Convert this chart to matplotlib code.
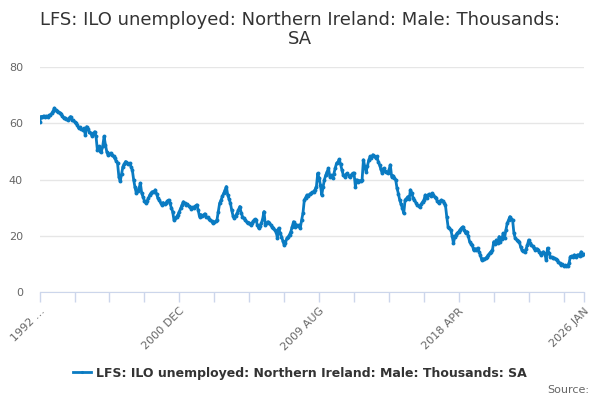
import matplotlib.pyplot as plt
import numpy as np
import pandas as pd

# monthly values, 1992 APR .. 2026 JAN (thousands)
months = pd.period_range('1992-04', '2026-01', freq='M')
values = [
    60.3, 62.4, 62.2, 62.6, 62.3, 62.5, 62.4, 62.8, 62.9, 63.5, 64.2, 65.4,
    64.6, 64.2, 64.0, 63.8, 63.2, 62.5, 61.8, 61.9, 61.5, 61.2, 61.8, 62.4,
    61.2, 61.0, 60.6, 60.0, 59.4, 58.3, 58.6, 58.0, 57.7, 58.2, 55.9, 58.8,
    57.8, 57.0, 56.4, 55.5, 56.2, 57.0, 55.3, 50.5, 51.8, 50.2, 49.9, 52.0,
    55.3, 52.3, 49.9, 48.6, 49.0, 49.4, 48.8, 48.2, 47.5, 46.6, 45.8, 41.0,
    39.3, 42.0, 44.6, 45.5, 46.4, 46.0, 45.4, 45.8, 44.6, 43.4, 39.9, 37.2,
    35.1, 36.0, 36.9, 38.7, 35.1, 33.8, 32.5, 31.6, 32.4, 33.3, 34.5, 35.2,
    35.7, 35.4, 36.3, 35.0, 33.4, 32.7, 31.8, 31.0, 31.8, 31.2, 31.6, 32.3,
    32.7, 31.5, 30.0, 28.6, 25.6, 26.2, 26.8, 27.5, 28.6, 29.8, 31.0, 32.1,
    31.5, 31.0, 31.2, 30.6, 30.4, 29.6, 30.2, 29.8, 30.5, 31.0, 29.2, 26.8,
    27.5, 27.0, 27.4, 27.8, 26.8, 26.5, 26.0, 25.6, 25.2, 24.4, 24.8, 25.1,
    25.6, 28.6, 31.6, 32.6, 34.0, 35.1, 36.2, 37.5, 34.5, 33.0, 31.6, 29.0,
    27.0, 26.2, 27.2, 28.0, 29.2, 30.4, 28.2, 26.8, 26.2, 25.6, 25.0, 24.4,
    24.6, 23.8, 24.4, 25.2, 25.8, 25.6, 24.0, 22.7, 23.6, 24.4, 26.0, 28.6,
    23.8, 24.4, 25.0, 24.6, 23.8, 23.2, 22.6, 22.0, 21.5, 19.1, 22.7, 21.0,
    19.7, 18.2, 16.7, 17.5, 19.1, 19.6, 20.4, 21.5, 23.2, 25.0, 23.2, 24.0,
    23.6, 23.8, 22.7, 25.6, 28.0, 32.7, 33.6, 34.5, 34.2, 34.8, 35.1, 35.4,
    35.7, 36.4, 37.5, 42.2, 40.5, 38.0, 34.5, 37.5, 40.0, 41.6, 42.8, 44.0,
    41.0, 41.5, 40.5, 42.0, 44.0, 45.8, 46.2, 47.2, 45.4, 43.4, 41.6, 41.0,
    41.8, 42.2, 41.4, 41.0, 41.6, 42.2, 42.2, 37.5, 39.9, 39.0, 39.6, 39.3,
    39.9, 47.0, 44.6, 42.8, 44.8, 47.0, 48.2, 47.6, 48.8, 48.2, 47.8, 48.2,
    46.4, 45.2, 43.6, 42.2, 44.0, 43.0, 42.5, 42.2, 43.4, 45.2, 41.0, 41.4,
    40.6, 39.9, 36.9, 35.0, 32.7, 31.2, 29.8, 28.0, 32.7, 33.2, 33.9, 33.0,
    36.3, 35.2, 33.3, 32.6, 31.8, 31.0, 30.6, 30.4, 31.2, 32.0, 32.7, 34.5,
    33.6, 34.5, 34.8, 34.2, 35.1, 34.6, 33.8, 33.3, 32.4, 31.6, 32.2, 32.7,
    32.4, 31.6, 31.0, 26.8, 23.2, 22.7, 22.1, 20.0, 17.3, 19.7, 20.4, 21.0,
    21.5, 22.2, 22.8, 23.2, 22.0, 20.9, 21.5, 20.0, 17.9, 17.2, 16.7, 14.9,
    15.4, 15.0, 15.6, 14.4, 13.2, 11.4, 11.8, 11.6, 12.0, 12.5, 13.2, 13.8,
    14.4, 14.9, 17.9, 17.0, 18.5, 17.3, 19.7, 17.9, 18.8, 20.9, 19.1, 22.0,
    24.4, 25.6, 26.8, 26.0, 25.6, 20.9, 19.1, 18.6, 18.2, 17.9, 16.0, 14.9,
    14.6, 14.3, 15.2, 16.7, 18.5, 17.6, 16.7, 16.2, 15.6, 14.9, 15.4, 14.9,
    14.2, 13.2, 14.0, 14.3, 13.6, 11.4, 15.6, 14.0, 12.6, 12.4, 12.2, 12.0,
    11.8, 11.4, 10.8, 10.2, 9.6, 9.8, 9.3, 9.5, 9.2, 9.3, 10.2, 12.6,
    12.8, 12.4, 13.2, 12.6, 13.0, 13.2, 12.8, 14.3, 13.2, 13.5,
]
series_name = 'LFS: ILO unemployed: Northern Ireland: Male: Thousands: SA'
labelled_months = ['1992-04', '2000-12', '2009-08', '2018-04', '2026-01']
yticks = [0, 20, 40, 60, 80]

month_labels = [m.strftime('%Y %b').upper() for m in months]
month_labels[0] = '1992 \u2026'
x = np.arange(len(months))

line_col = '#0a7bc2'
grey = '#666666'

fig = plt.figure(figsize=(6, 4), dpi=100)
ax = fig.add_axes([0.066, 0.27, 0.907, 0.5625])

ax.plot(x, values, color=line_col, lw=2, marker='o', ms=2.8,
        markeredgewidth=0, label=series_name, zorder=3)

ax.set_xlim(0, len(months) - 1)
ax.set_ylim(0, 80)
ax.set_yticks(yticks)
ax.yaxis.grid(True, color='#e6e6e6', lw=1)
ax.set_axisbelow(True)
ax.tick_params(axis='y', length=0, labelsize=8, labelcolor=grey, pad=12)

# tick marks every 26 months plus the last month, labels on a few
tick_pos = list(range(0, len(months), 26)) + [len(months) - 1]
lab_idx = [months.get_loc(pd.Period(m, 'M')) for m in labelled_months]
tick_lab = [month_labels[p] if p in lab_idx else '' for p in tick_pos]
ax.set_xticks(tick_pos)
ax.set_xticklabels(tick_lab, rotation=45, ha='right', rotation_mode='anchor')
ax.tick_params(axis='x', length=7, width=1, color='#ccd6eb',
               labelsize=8, labelcolor=grey, pad=3)

for s in ['top', 'right', 'left']:
    ax.spines[s].set_visible(False)
ax.spines['bottom'].set_color('#ccd6eb')

fig.suptitle('LFS: ILO unemployed: Northern Ireland: Male: Thousands:\nSA',
             y=0.972, fontsize=13, color='#333333', linespacing=1.05)

leg = fig.legend(loc='center', bbox_to_anchor=(0.5, 0.067), frameon=False,
                 prop={'size': 9, 'weight': 'bold'}, handlelength=1.4,
                 handletextpad=0.4, markerscale=0.8)
for t in leg.get_texts():
    t.set_color('#333333')

fig.text(0.982, 0.025, 'Source:', ha='right', va='center', fontsize=8, color=grey)

fig.savefig('out.png', dpi=100)
